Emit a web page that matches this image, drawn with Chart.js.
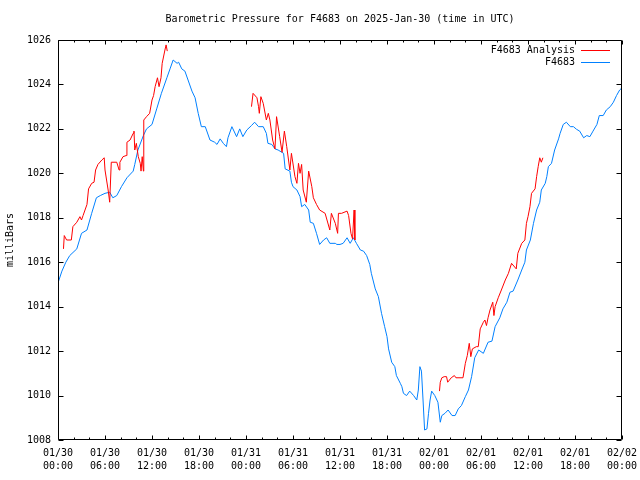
<!DOCTYPE html>
<html>
<head>
<meta charset="utf-8">
<script src="https://cdn.jsdelivr.net/npm/chart.js@4/dist/chart.umd.min.js"></script>
<style>
html,body{margin:0;padding:0;background:#fff;}
#wrap{width:640px;height:480px;}
</style>
</head>
<body>
<div id="wrap"><canvas id="c" width="640" height="480"></canvas></div>
<script>
// ---- data (hours since 2025-01-30 00:00 UTC) ----
const stationTimes = [0.0,0.5,1.0,1.5,2.4,3.0,3.7,4.3,4.9,5.4,6.0,6.6,7.0,7.5,8.1,8.8,9.6,9.8,10.2,10.9,11.3,12.0,12.6,13.2,13.9,14.3,14.7,15.2,15.4,15.8,16.2,16.6,17.1,17.5,17.9,18.3,18.8,19.4,20.0,20.3,20.7,21.1,21.5,21.7,22.2,22.8,23.2,23.6,24.1,24.7,25.1,25.6,26.2,26.6,26.8,27.3,27.7,28.1,28.8,29.0,29.6,29.8,30.0,30.5,30.9,31.1,31.5,32.0,32.2,32.6,33.0,33.4,33.9,34.3,34.7,35.4,35.6,36.0,36.4,36.9,37.3,37.7,38.1,38.6,39.0,39.4,39.8,40.0,40.5,40.9,41.3,41.7,42.0,42.2,42.6,43.0,43.2,43.7,43.9,44.1,44.5,44.9,45.4,45.8,46.0,46.2,46.4,46.6,46.8,47.1,47.3,47.5,47.7,48.1,48.5,48.8,49.0,49.4,49.8,50.3,50.7,51.1,51.5,52.0,52.4,52.8,53.2,53.7,54.3,54.9,55.4,55.8,56.4,56.8,57.3,57.7,58.1,58.7,59.2,59.6,59.8,60.3,60.7,61.1,61.5,61.7,62.2,62.4,62.6,63.0,63.4,63.9,64.1,64.5,64.9,65.4,65.8,66.2,66.6,67.1,67.5,67.9,68.3,68.8,69.1,69.6,70.0,70.5,70.9,71.3,71.7,72.0];
const stationValues = [1015.07,1015.6,1016.0,1016.3,1016.6,1017.3,1017.45,1018.2,1018.9,1019.0,1019.1,1019.15,1018.9,1019.0,1019.4,1019.8,1020.1,1020.4,1021.05,1021.7,1022.0,1022.2,1022.9,1023.6,1024.3,1024.7,1025.1,1024.95,1025.0,1024.7,1024.6,1024.2,1023.7,1023.4,1022.7,1022.1,1022.1,1021.5,1021.4,1021.3,1021.55,1021.35,1021.2,1021.6,1022.1,1021.65,1022.0,1021.65,1021.95,1022.15,1022.3,1022.1,1022.1,1021.8,1021.35,1021.3,1021.1,1021.05,1020.9,1020.2,1020.1,1019.6,1019.4,1019.25,1018.95,1018.5,1018.6,1018.35,1017.8,1017.75,1017.3,1016.8,1017.0,1017.1,1016.85,1016.85,1016.8,1016.8,1016.85,1017.1,1016.85,1017.1,1016.85,1016.55,1016.5,1016.3,1015.9,1015.5,1014.8,1014.45,1013.7,1013.1,1012.65,1012.1,1011.5,1011.3,1010.9,1010.55,1010.4,1010.1,1010.0,1010.2,1010.0,1009.8,1010.25,1011.3,1011.1,1009.8,1008.45,1008.5,1009.2,1009.8,1010.2,1010.0,1009.7,1008.8,1009.1,1009.2,1009.35,1009.1,1009.1,1009.4,1009.55,1009.95,1010.25,1010.85,1011.7,1012.05,1011.9,1012.4,1012.45,1013.1,1013.5,1013.9,1014.2,1014.65,1014.7,1015.2,1015.65,1016.0,1016.55,1017.0,1017.75,1018.35,1018.7,1019.25,1019.55,1019.85,1020.3,1020.45,1021.05,1021.55,1021.8,1022.2,1022.3,1022.1,1022.1,1021.98,1021.9,1021.6,1021.7,1021.65,1021.9,1022.2,1022.6,1022.6,1022.85,1023.0,1023.2,1023.5,1023.75,1023.85];

// analysis: null entries separate the three runs
const analysisTimes = [0.7,0.8,1.1,1.7,1.9,2.4,2.8,3.0,3.2,3.7,3.9,4.3,4.6,4.8,5.1,5.6,5.9,6.0,6.2,6.4,6.6,6.8,7.5,7.8,7.9,8.3,8.7,8.8,9.2,9.6,9.7,9.8,10.0,10.25,10.5,10.6,10.75,10.9,10.95,11.3,11.7,12.0,12.2,12.4,12.7,12.9,13.15,13.3,13.65,13.8,13.95,
  19.0,
  24.7,24.9,25.4,25.6,25.7,25.9,26.2,26.6,26.85,27.05,27.4,27.7,27.9,28.3,28.6,28.9,29.2,29.6,29.8,30.25,30.5,30.7,30.9,31.1,31.3,31.7,32.0,32.4,32.6,33.0,33.4,34.1,34.7,34.9,35.4,35.7,35.8,36.2,36.9,37.1,37.4,37.6,37.8,37.9,
  43.0,
  48.7,48.8,49.0,49.3,49.6,49.75,50.2,50.6,50.8,51.7,52.0,52.25,52.5,52.7,52.9,53.4,53.65,53.9,54.3,54.5,54.7,54.9,55.15,55.5,55.65,55.8,56.2,56.6,57.1,57.5,57.9,58.5,58.7,59.2,59.6,59.8,60.0,60.25,60.45,60.9,61.1,61.3,61.5,61.7,61.9];
const analysisValues = [1016.6,1017.2,1017.0,1017.0,1017.6,1017.8,1018.05,1017.9,1018.1,1018.6,1019.3,1019.55,1019.6,1020.15,1020.4,1020.6,1020.7,1020.15,1019.7,1019.25,1018.7,1020.5,1020.5,1020.15,1020.5,1020.75,1020.8,1021.4,1021.5,1021.8,1021.9,1021.05,1021.35,1020.75,1020.45,1020.1,1020.75,1020.1,1022.4,1022.55,1022.7,1023.3,1023.5,1023.9,1024.3,1023.9,1024.3,1024.95,1025.55,1025.78,1025.5,
  null,
  1023.0,1023.6,1023.4,1023.0,1022.7,1023.45,1023.15,1022.4,1022.7,1022.4,1021.5,1021.1,1022.55,1021.65,1020.95,1021.9,1021.2,1020.15,1020.9,1019.85,1019.55,1020.45,1020.0,1020.4,1019.25,1018.7,1020.1,1019.4,1018.9,1018.6,1018.35,1018.2,1017.45,1018.2,1017.75,1017.3,1018.2,1018.2,1018.3,1018.1,1017.3,1017.05,1018.35,1017.0,
  null,
  1010.2,1010.6,1010.8,1010.85,1010.85,1010.6,1010.8,1010.9,1010.8,1010.8,1011.45,1011.8,1012.35,1011.75,1012.1,1012.2,1012.2,1013.0,1013.3,1013.4,1013.15,1013.5,1013.85,1014.2,1013.6,1014.0,1014.4,1014.75,1015.2,1015.5,1015.95,1015.7,1016.4,1016.85,1017.0,1017.75,1018.05,1018.5,1019.1,1019.3,1019.85,1020.3,1020.7,1020.5,1020.7];

const xTickHours = [0,6,12,18,24,30,36,42,48,54,60,66,72];
const xTickDates = ['01/30','01/30','01/30','01/30','01/31','01/31','01/31','01/31','02/01','02/01','02/01','02/01','02/02'];
const xTickTimes = ['00:00','06:00','12:00','18:00','00:00','06:00','12:00','18:00','00:00','06:00','12:00','18:00','00:00'];
const xMinorStep = 2;
const yTicks = [1008,1010,1012,1014,1016,1018,1020,1022,1024,1026];
const seriesNames = ['F4683 Analysis','F4683'];
const seriesColors = ['#ff0000','#0080ff'];

const FONT = "'DejaVu Sans Mono', 'Liberation Mono', monospace";

function pts(ts, vs){ return ts.map((t,i)=>({x:t, y:vs[i]})); }

const frame = {
  id:'frame',
  afterDraw(chart){
    const {ctx, chartArea:ca, scales} = chart;
    const xs = scales.x, ys = scales.y;
    ctx.save();
    ctx.strokeStyle = '#000'; ctx.lineWidth = 1;
    const L = Math.round(ca.left)+0.5, R = Math.round(ca.right)-0.5, T = Math.round(ca.top)+0.5, B = Math.round(ca.bottom)-0.5;
    ctx.beginPath();
    ctx.rect(L, T, R-L, B-T);
    for (let h=0; h<=72; h+=xMinorStep){
      const x = Math.round(xs.getPixelForValue(h))+0.5;
      const len = xTickHours.includes(h)?4:2;
      ctx.moveTo(x,B); ctx.lineTo(x,B-len);
      ctx.moveTo(x,T); ctx.lineTo(x,T+len);
    }
    yTicks.forEach(v=>{
      const y = Math.round(ys.getPixelForValue(v))+0.5;
      ctx.moveTo(L,y); ctx.lineTo(L+5,y);
      ctx.moveTo(R,y); ctx.lineTo(R-5,y);
    });
    ctx.stroke();
    // legend (key) inside plot, top-right
    ctx.font = '10px ' + FONT;
    ctx.textAlign='right'; ctx.textBaseline='middle'; ctx.fillStyle='#000';
    const ky = [ca.top+10, ca.top+22];
    seriesNames.forEach((n,i)=>{
      ctx.fillText(n, ca.right-47, ky[i]);
      ctx.beginPath(); ctx.strokeStyle = seriesColors[i];
      ctx.moveTo(ca.right-41, Math.round(ky[i])+0.5); ctx.lineTo(ca.right-12, Math.round(ky[i])+0.5);
      ctx.stroke();
    });
    ctx.restore();
  }
};

new Chart(document.getElementById('c'), {
  type:'line',
  data:{
    datasets:[
      {label:seriesNames[0], data:pts(analysisTimes, analysisValues), borderColor:seriesColors[0], borderWidth:1, pointRadius:0, tension:0, spanGaps:false},
      {label:seriesNames[1], data:pts(stationTimes, stationValues), borderColor:seriesColors[1], borderWidth:1, pointRadius:0, tension:0}
    ]
  },
  options:{
    responsive:false, animation:false, devicePixelRatio:1,
    layout:{padding:{left:0,right:18,top:0,bottom:0}},
    plugins:{
      legend:{display:false},
      tooltip:{enabled:false},
      title:{display:true, fullSize:false, text:'Barometric Pressure for F4683 on 2025-Jan-30 (time in UTC)', color:'#000',
        font:{family:FONT, size:10, weight:'normal', lineHeight:1.2}, padding:{top:13,bottom:15}}
    },
    scales:{
      x:{type:'linear', min:0, max:72,
        grid:{display:false, drawTicks:false}, border:{display:false},
        afterBuildTicks(s){ s.ticks = xTickHours.map(v=>({value:v})); },
        afterFit(s){ s.height = 40; s.paddingLeft = 0; s.paddingRight = 0; },
        ticks:{autoSkip:false, maxRotation:0, color:'#000', padding:7,
          font:{family:FONT, size:10, lineHeight:1.3},
          callback(v){ const i = xTickHours.indexOf(v); return i<0 ? '' : [xTickDates[i], xTickTimes[i]]; }}
      },
      y:{type:'linear', min:1008, max:1026,
        grid:{display:false, drawTicks:false}, border:{display:false},
        afterBuildTicks(s){ s.ticks = yTicks.map(v=>({value:v})); },
        afterFit(s){ s.width = 58; s.paddingTop = 0; s.paddingBottom = 0; },
        title:{display:true, text:'milliBars', color:'#000', font:{family:FONT, size:10, lineHeight:1.2}, padding:{top:4,bottom:0}},
        ticks:{color:'#000', padding:7, font:{family:FONT, size:10}, callback(v){ return String(v); }}
      }
    }
  },
  plugins:[frame]
});
</script>
</body>
</html>
